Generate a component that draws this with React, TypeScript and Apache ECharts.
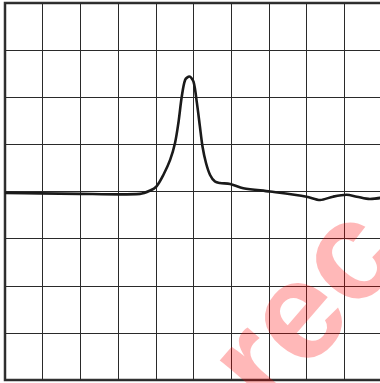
import React, { useEffect, useRef } from "react";
import * as echarts from "echarts";

const xValues = [0, 0.93, 1.99, 3.05, 3.58, 3.85, 4.02, 4.2, 4.38, 4.51, 4.6, 4.69, 4.78, 4.89, 5.0, 5.09, 5.17, 5.24, 5.33, 5.44, 5.57, 5.7, 5.97, 6.32, 7.03, 8.0, 8.36, 8.7, 9.06, 9.33, 9.68, 10];
const yValues = [-0.03, -0.04, -0.05, -0.06, -0.05, 0.02, 0.11, 0.35, 0.67, 1.03, 1.46, 2.02, 2.37, 2.44, 2.33, 1.88, 1.38, 0.95, 0.61, 0.35, 0.21, 0.18, 0.16, 0.07, 0.0, -0.11, -0.18, -0.11, -0.07, -0.11, -0.16, -0.13];
const watermarkText = "rec";

export default function App() {
  const ref = useRef<HTMLDivElement>(null);
  useEffect(() => {
    const chart = echarts.init(ref.current!, null, { renderer: "svg" });
    const data = xValues.map((x, i) => [x, yValues[i]]);
    chart.setOption({
      animation: false,
      backgroundColor: "#fff",
      grid: {
        left: 5,
        top: 3,
        width: 377,
        height: 377,
        show: true,
        borderColor: "#333",
        borderWidth: 2.5,
        backgroundColor: "transparent",
      },
      xAxis: {
        type: "value",
        min: 0,
        max: 10,
        interval: 1,
        axisLine: { show: false },
        axisTick: { show: false },
        axisLabel: { show: false },
        splitLine: { show: true, lineStyle: { color: "#2a2a2a", width: 1 } },
      },
      yAxis: {
        type: "value",
        min: -4,
        max: 4,
        interval: 1,
        axisLine: { show: false },
        axisTick: { show: false },
        axisLabel: { show: false },
        splitLine: { show: true, lineStyle: { color: "#2a2a2a", width: 1 } },
      },
      series: [
        {
          type: "line",
          data,
          smooth: 0.3,
          showSymbol: false,
          lineStyle: { color: "#1a1a1a", width: 2.6 },
        },
      ],
      graphic: [
        {
          type: "text",
          x: 233,
          y: 384,
          rotation: 0.86,
          z: 100,
          style: {
            text: watermarkText,
            fontSize: 140,
            fontWeight: "bold",
            fontFamily: "Liberation Sans, Arial, sans-serif",
            fill: "rgba(255,0,0,0.28)",
            textVerticalAlign: "middle",
          },
        },
      ],
    });
    return () => chart.dispose();
  }, []);
  return (
    <div
      ref={ref}
      style={{ position: "fixed", left: 0, top: 0, width: 383, height: 383, overflow: "hidden" }}
    />
  );
}
